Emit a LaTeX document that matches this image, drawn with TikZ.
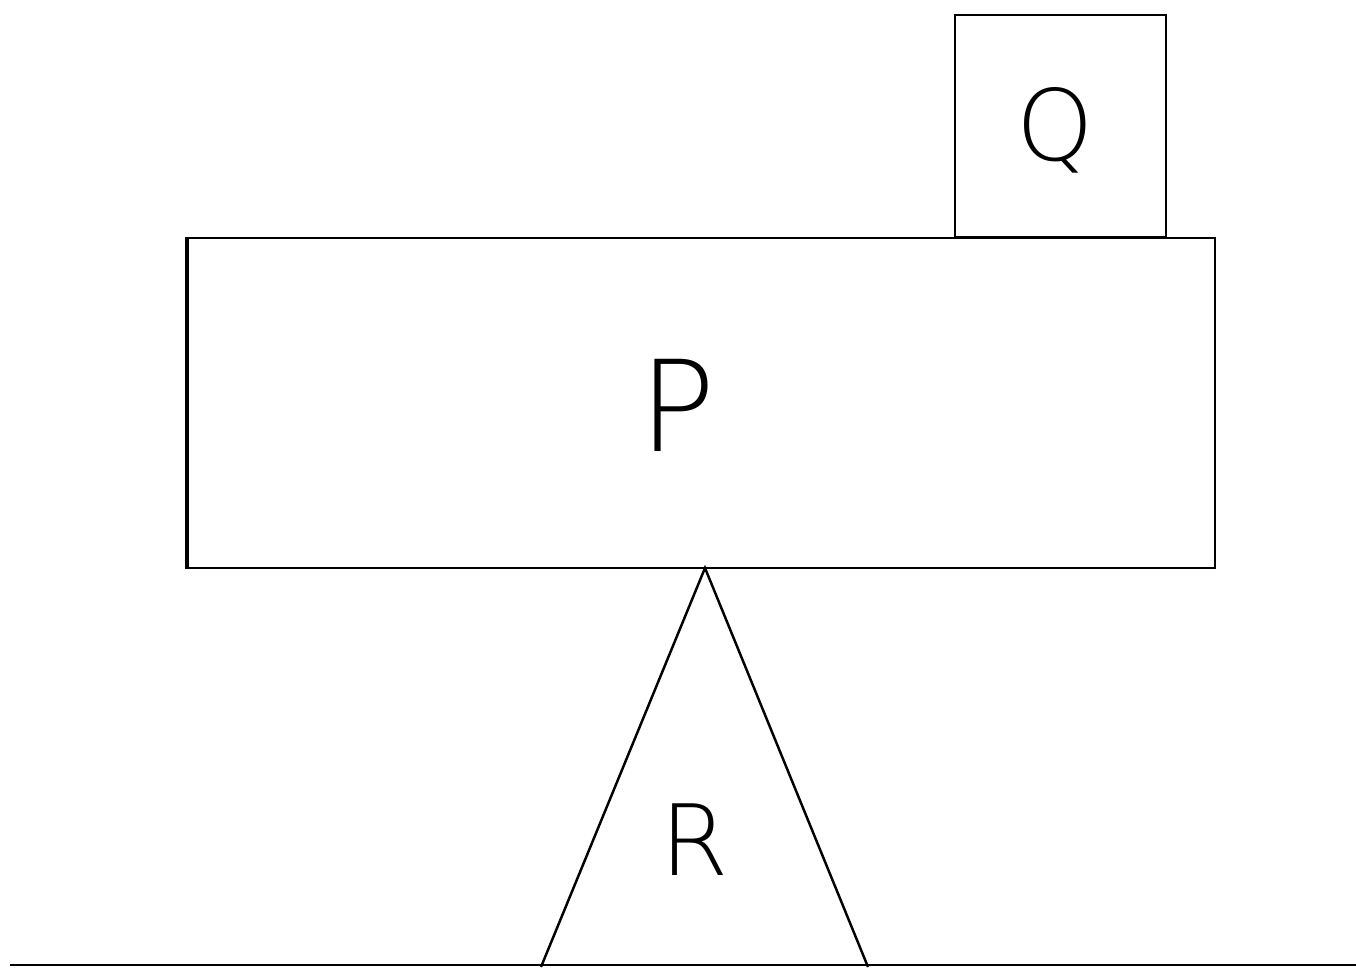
\documentclass[tikz,border=0pt]{standalone}
\usepackage{fontspec}
\setmainfont{Liberation Sans}
\newfontfamily\thinfont{DejaVu Sans ExtraLight}
\tikzset{
  block/.style={draw, line width=0.7pt, inner sep=0pt},
  letter/.style={font=\thinfont\fontsize{28}{30}\selectfont},
}
\begin{document}
\begin{tikzpicture}[line width=0.7pt]
\useasboundingbox (0,0) rectangle (13.56,9.71);
%\tikzstyle{every node}=[draw];
\node [block, minimum width=10.27cm, minimum height=3.30cm] (p) at (7.015,5.68) {};
\node [block, minimum width=2.11cm, minimum height=2.22cm, anchor=south] (q) at (10.605,7.33) {};
\coordinate (apex) at (7.05,4.03);
\coordinate (bl) at (5.41,0.04);
\coordinate (br) at (8.68,0.04);
\coordinate (g1) at (0.10,0.06);
\coordinate (g2) at (13.56,0.06);
\node [letter, font=\thinfont\fontsize{36}{38}\selectfont] (lp) at (6.78,5.66) {P};
\node [letter] (lq) at (10.55,8.41) {Q};
\node [letter] (lr) at (6.95,1.31) {R};
\draw (g1) -- (g2);
\draw (bl) -- (apex) -- (br);
\draw [line width=1.2pt] (p.south west) -- (p.north west);
\end{tikzpicture}
\end{document}
